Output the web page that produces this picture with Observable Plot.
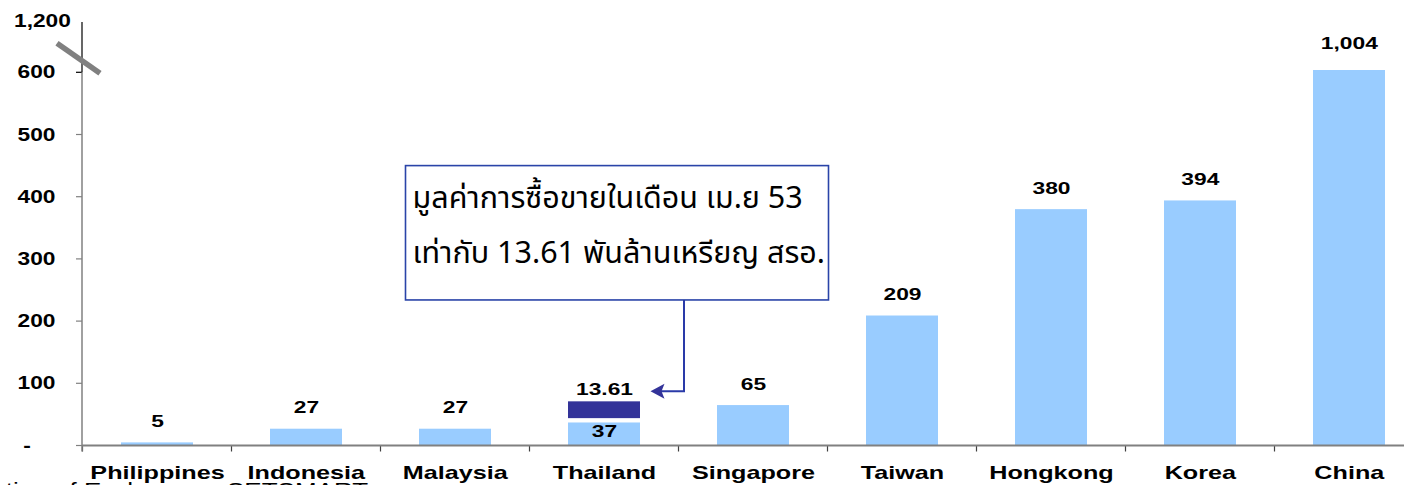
<!DOCTYPE html>
<html><head><meta charset="utf-8">
<script src="https://cdn.jsdelivr.net/npm/d3@7"></script>
<script src="https://cdn.jsdelivr.net/npm/@observablehq/plot@0.6"></script>
<style>
html,body{margin:0;padding:0;background:#fff;overflow:hidden;width:1404px;height:485px;}
#chart svg{display:block;}
.caption{font-family:"Liberation Sans",Arial,sans-serif;font-size:20px;line-height:20px;white-space:nowrap;transform-origin:0 0;transform:translateX(-248px) scaleX(1.3);color:#000;}
</style></head>
<body>
<div id="chart"></div>
<div class="caption" id="caption"></div>
<script>
// ---- data ----
const categories = ["Philippines","Indonesia","Malaysia","Thailand","Singapore","Taiwan","Hongkong","Korea","China"];
const values = [5, 27, 27, 37, 65, 209, 380, 394, 1004];
const valueLabels = ["5","27","27","37","65","209","380","394","1,004"];
const yTickValues = [100, 200, 300, 400, 500, 600];
const yTopTick = 1200;
const yTopLabel = "1,200";
const yZeroLabel = "-";
const highlightCategory = "Thailand";
const highlightFrom = 44;
const highlightTo = 71;
const highlightLabel = "13.61";
const calloutLines = ["มูลค่าการซื้อขายในเดือน เม.ย 53", "เท่ากับ 13.61 พันล้านเหรียญ สรอ."];
const sourceNote = "Source: World Federation of Exchanges, SETSMART";

const rows = categories.map((c, i) => ({cat: c, value: values[i], label: valueLabels[i]}));
const highlight = [{cat: highlightCategory, from: highlightFrom, to: highlightTo, label: highlightLabel}];

const FONT = "'Liberation Sans', Arial, sans-serif";
const THAI = "Tahoma, 'Noto Sans Thai', 'Noto Sans Thai Looped', Loma, Garuda, 'Noto Sans', sans-serif";
const W = 1404, H = 480;

function decor(index, scales, values, dims) {
  const x = scales.x, y = scales.y;
  const g = d3.create("svg:g");
  const left = dims.marginLeft;
  const y0 = y(0);
  const step = x.step(), bw = x.bandwidth();
  // x axis boundary ticks
  for (let i = 0; i <= categories.length; i++) {
    const xb = x(categories[0]) - (step - bw) / 2 + i * step;
    g.append("line").attr("x1", xb).attr("x2", xb).attr("y1", y0).attr("y2", y0 + 6)
      .attr("stroke", "#404040").attr("stroke-width", 1.2);
  }
  // y ticks
  [0, ...yTickValues].forEach(v => {
    g.append("line").attr("x1", left - 6).attr("x2", left).attr("y1", y(v)).attr("y2", y(v))
      .attr("stroke", v === 600 ? "#000" : "#808080").attr("stroke-width", 1.2);
  });
  // y axis line
  g.append("line").attr("x1", left).attr("x2", left).attr("y1", y(600)).attr("y2", y0 + 6)
    .attr("stroke", "#808080").attr("stroke-width", 1.5);
  g.append("line").attr("x1", left).attr("x2", left).attr("y1", y(yTopTick) + 1.5).attr("y2", y(600))
    .attr("stroke", "#000").attr("stroke-width", 1.2);
  // x axis line
  g.append("line").attr("x1", left).attr("x2", dims.width).attr("y1", y0).attr("y2", y0)
    .attr("stroke", "#808080").attr("stroke-width", 1.8);
  // axis break marker
  const by = y(600) - 14;
  g.append("line").attr("x1", left - 25).attr("y1", by - 15).attr("x2", left + 18).attr("y2", by + 15)
    .attr("stroke", "#808080").attr("stroke-width", 5.5);
  // callout
  const cx = x(highlightCategory) + bw / 2;
  const bx1 = cx - 198.5, bx2 = cx + 224.5, by1 = y(450), by2 = y(234);
  g.append("rect").attr("x", bx1).attr("y", by1).attr("width", bx2 - bx1).attr("height", by2 - by1)
    .attr("fill", "#fff").attr("stroke", "#2a44a8").attr("stroke-width", 1.6);
  calloutLines.forEach((t, i) => {
    g.append("text").attr("x", bx1 + 7).attr("y", by1 + 42 + i * 55)
      .attr("text-anchor", "start")
      .attr("font-family", THAI).attr("font-size", 30.5).attr("font-weight", "normal").attr("fill", "#000").text(t);
  });
  // arrow
  const ax = cx + 80, tipX = cx + 46.5, tipY = y(highlightTo) - 10;
  g.append("polyline").attr("points", `${ax},${by2} ${ax},${tipY} ${tipX + 10},${tipY}`)
    .attr("fill", "none").attr("stroke", "#2a3aa8").attr("stroke-width", 2);
  g.append("path").attr("d", `M${tipX},${tipY} L${tipX + 14},${tipY - 7.5} L${tipX + 11},${tipY} L${tipX + 14},${tipY + 7.5} Z`)
    .attr("fill", "#333399");
  return g.node();
}

const textMarks = {
  vlabel: [
    Plot.text(rows.filter(d => d.cat !== highlightCategory && d.cat !== "China"),
      {x: "cat", y: "value", text: "label", dy: -21, fontSize: 16.5, fontWeight: "bold", fill: "#000"}),
    Plot.text(rows.filter(d => d.cat === "China"),
      {x: "cat", y: "value", text: "label", dy: -27, fontSize: 16.5, fontWeight: "bold", fill: "#000"}),
    Plot.text(rows.filter(d => d.cat === highlightCategory),
      {x: "cat", y: "value", text: "label", dy: 9, fontSize: 16.5, fontWeight: "bold", fill: "#000"}),
    Plot.text(highlight, {x: "cat", y: "to", text: "label", dy: -12, fontSize: 16.5, fontWeight: "bold", fill: "#000"})
  ],
  xlabel: [
    Plot.text(rows, {x: "cat", frameAnchor: "bottom", lineAnchor: "middle", dy: 27, text: "cat", fontSize: 18, fontWeight: "bold", fill: "#000"})
  ],
  ylabel: [
    Plot.text(yTickValues, {y: d => d, frameAnchor: "left", dx: -27, textAnchor: "end", text: d => d3.format(",")(d), fontSize: 17.5, fontWeight: "bold", fill: "#000"}),
    Plot.text([yTopTick], {y: d => d, frameAnchor: "left", dx: -11.5, textAnchor: "end", text: () => yTopLabel, fontSize: 17.5, fontWeight: "bold", fill: "#000"}),
    Plot.text([0], {y: d => d, frameAnchor: "left", dx: -55.5, textAnchor: "middle", text: () => yZeroLabel, fontSize: 17.5, fontWeight: "bold", fill: "#000"})
  ]
};

const plot = Plot.plot({
  width: W, height: H,
  marginLeft: 82, marginRight: 0, marginTop: 20, marginBottom: 34.5,
  style: {fontFamily: FONT, background: "#fff", overflow: "visible"},
  x: {domain: categories, range: [82, 1423], paddingInner: 0.517, paddingOuter: 0.2585, axis: null},
  y: {type: "linear", domain: [0, 600, 1004, 1200], range: [445.5, 72.3, 70, 20.5], axis: null},
  marks: [
    Plot.barY(rows, {x: "cat", y: "value", fill: "#99ccff"}),
    Plot.barY(highlight, {x: "cat", y1: "from", y2: "to", fill: "#333399"}),
    decor,
    ...textMarks.vlabel,
    ...textMarks.xlabel,
    ...textMarks.ylabel
  ]
});

document.getElementById("chart").appendChild(plot);
document.getElementById("caption").textContent = sourceNote;

// horizontally stretch text glyphs about their anchor, like the reference rendering
function stretchGroup(grp, k) {
  grp.querySelectorAll("text").forEach(t => {
    const b = t.getBBox();
    const anchor = getComputedStyle(t).textAnchor;
    const ax = anchor === "end" ? b.x + b.width : anchor === "middle" ? b.x + b.width / 2 : b.x;
    const tr = t.getAttribute("transform") || "";
    t.setAttribute("transform", `${tr} translate(${ax},0) scale(${k},1) translate(${-ax},0)`);
  });
}
const groups = Array.from(plot.querySelectorAll(':scope > g[aria-label="text"]'));
const kinds = [
  ...textMarks.vlabel.map(() => 1.38),
  ...textMarks.xlabel.map(() => 1.4),
  ...textMarks.ylabel.map(() => 1.3)
];
groups.forEach((grp, i) => stretchGroup(grp, kinds[i] || 1));
</script>
</body></html>
